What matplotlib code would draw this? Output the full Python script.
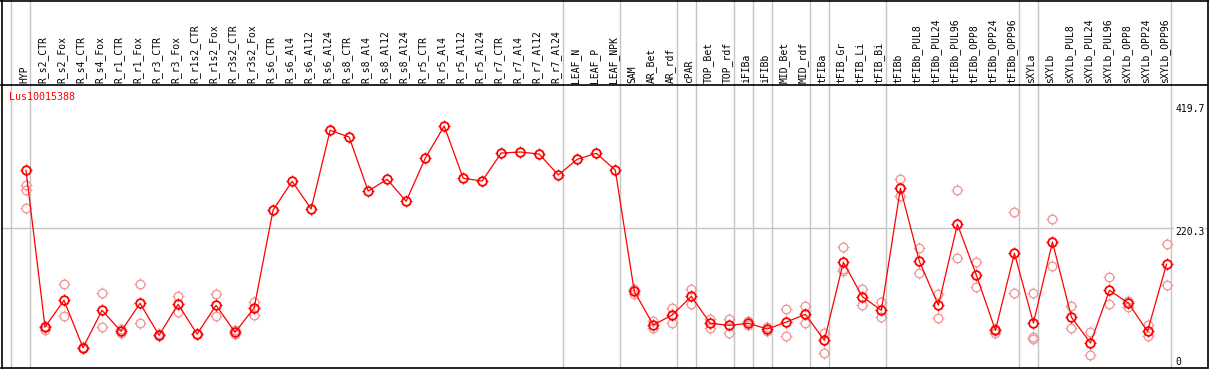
import matplotlib
matplotlib.use("Agg")
import matplotlib.pyplot as plt
import numpy as np
from matplotlib.path import Path
from matplotlib.lines import Line2D
from matplotlib.transforms import ScaledTranslation

# sample labels, in plotting order
samples = ["HYP", "R_s2_CTR", "R_s2_Fox", "R_s4_CTR", "R_s4_Fox", "R_r1_CTR", "R_r1_Fox",
           "R_r3_CTR", "R_r3_Fox", "R_r1s2_CTR", "R_r1s2_Fox", "R_r3s2_CTR", "R_r3s2_Fox",
           "R_s6_CTR", "R_s6_Al4", "R_s6_Al12", "R_s6_Al24", "R_s8_CTR", "R_s8_Al4",
           "R_s8_Al12", "R_s8_Al24", "R_r5_CTR", "R_r5_Al4", "R_r5_Al12", "R_r5_Al24",
           "R_r7_CTR", "R_r7_Al4", "R_r7_Al12", "R_r7_Al24", "LEAF_N", "LEAF_P", "LEAF_NPK",
           "SAM", "AR_Bet", "AR_rdf", "cPAR", "TOP_Bet", "TOP_rdf", "iFIBa", "iFIBb",
           "MID_Bet", "MID_rdf", "tFIBa", "tFIB_Gr", "tFIB_Li", "tFIB_Bi", "tFIBb",
           "tFIBb_PUL8", "tFIBb_PUL24", "tFIBb_PUL96", "tFIBb_OPP8", "tFIBb_OPP24",
           "tFIBb_OPP96", "sXYLa", "sXYLb", "sXYLb_PUL8", "sXYLb_PUL24", "sXYLb_PUL96",
           "sXYLb_OPP8", "sXYLb_OPP24", "sXYLb_OPP96"]

# main expression value per sample
expr = [315.2, 58.9, 102.5, 25, 86.2, 51.8, 97.6, 45.3, 96, 47.4, 94.4, 50.2, 90,
        250.2, 297.2, 251.9, 380.6, 369.6, 281.3, 300.4, 264.5, 334.8, 387.6, 302.1,
        297.7, 343.5, 345.1, 341.8, 307.5, 333.2, 343, 315.7,
        117.2, 62.2, 78.5, 109, 64.9, 61.6, 64.9, 55.6, 67, 79.6, 37.1, 164.7, 108.5, 86.2,
        285.7, 166.3, 94.4, 226.8, 143.4, 53.5, 179.4,
        65.4, 197.9, 74.7, 32.7, 118.9, 97.6, 51.8, 161.4]

# replicate values per sample
reps = [[290.6, 283, 254], [54, 60.5], [128.7, 76.4], [25, 26], [114.5, 58.4],
        [55, 49.6], [128.7, 65.4], [47.4, 44.2], [109, 82.9], [47.4, 47],
        [112.4, 77.4], [54, 47], [99.8, 79]] + [[] for _ in range(19)] + [
        [120.5, 112.4], [69.2, 57.7], [90, 65.4], [120.5, 96.5], [72, 57.7],
        [72, 49.6], [68.2, 61.6], [59.4, 51.8], [87.8, 43.6], [93.2, 65.4],
        [49.6, 16.4], [189.2, 154, 151], [121, 94.9], [99.3, 74.7],
        [300.4, 273.1], [187.6, 146.7], [113.3, 73.1], [282.4, 171.2],
        [164.7, 124.3], [49.6, 55], [246.5, 114],
        [114, 43, 38.8], [235, 158.2], [92.7, 57.2], [50.2, 12.6], [140.7, 96],
        [101.9, 92.1], [62.2, 44.7], [194.1, 127.1]]

# group separators come after these sample indices
group_ends = [-1, 0, 28, 31, 34, 35, 37, 38, 39, 41, 42, 45, 52, 53, 60]

y_ticks = [0, 220.3, 419.7]
y_tick_text = ["0", "220.3", "419.7"]
gene = "Lus10015388"

W, H = 1209, 370
fig = plt.figure(figsize=(W / 100, H / 100), dpi=100)
ax = fig.add_axes([1 / W, (H - 368) / H, 1206 / W, (368 - 85) / H])

# little ticks around the circle markers
tick_mk = Path([(0.72, 0), (1, 0), (-0.72, 0), (-1, 0), (0, 0.72), (0, 1), (0, -0.72), (0, -1)],
               [Path.MOVETO, Path.LINETO] * 4)

red = "#ff0000"
pink = "#f09a9a"
x = np.arange(len(samples))

rx = [i for i, r in enumerate(reps) for _ in r]
ry = [v for r in reps for v in r]
ax.plot(rx, ry, ls="none", marker="o", ms=6.2, mfc="none", mec=pink, mew=1.0, zorder=3)
ax.plot(rx, ry, ls="none", marker=tick_mk, ms=8.6, mec=pink, mew=0.8, zorder=3)
ax.plot(x, expr, color=red, lw=0.9, zorder=4)
ax.plot(x, expr, ls="none", marker="o", ms=6.2, mfc="none", mec=red, mew=1.3, zorder=5)
ax.plot(x, expr, ls="none", marker=tick_mk, ms=8.6, mec=red, mew=0.9, zorder=5)

ax.set_xlim(-1.315, 62.13)
ax.set_ylim(-8.18, 454.7)

grid = "#c4c4c4"
for g in group_ends:
    ax.axvline(g + 0.23, ymin=0, ymax=368 / 283, color=grid, lw=1, clip_on=False, zorder=1)
ax.axhline(220.3, color=grid, lw=1, zorder=1)

ax.xaxis.tick_top()
ax.set_xticks(x)
ax.set_xticklabels(samples, rotation=90, fontfamily="DejaVu Sans Mono", fontsize=7)
ax.tick_params(axis="x", length=0, pad=1.5)
for lab in ax.get_xticklabels():
    lab.set_transform(lab.get_transform() + ScaledTranslation(-0.02, 0, fig.dpi_scale_trans))
ax.set_yticks([])

for s in ["left", "right"]:
    ax.spines[s].set_visible(False)
ax.spines["top"].set_linewidth(1.2)
ax.spines["bottom"].set_linewidth(1.2)

# value labels sit inside the frame, at the right
offs = [1.3, -4, -3]
for v, s, o in zip(y_ticks, y_tick_text, offs):
    t = ax.text(1177 / W, v, s, transform=ax.get_yaxis_transform(),
                ha="left", va="center", fontfamily="DejaVu Sans Mono", fontsize=7,
                bbox=dict(facecolor="white", edgecolor="none", pad=0.5), zorder=6)
    t.set_transform(t.get_transform() + ScaledTranslation(0, o / 100, fig.dpi_scale_trans))

fig.text(9 / W, 1 - 97 / H, gene, color=red, ha="left", va="center",
         fontfamily="DejaVu Sans Mono", fontsize=7.2)

# outer frame
fig.add_artist(Line2D([0, 1], [1 - 0.5 / H] * 2, color="black", lw=1.2))
fig.add_artist(Line2D([1.5 / W] * 2, [(H - 368) / H, 1], color="black", lw=1.2))
fig.add_artist(Line2D([1207.5 / W] * 2, [(H - 368) / H, 1], color="black", lw=1.2))

fig.savefig("out.png", dpi=100)
